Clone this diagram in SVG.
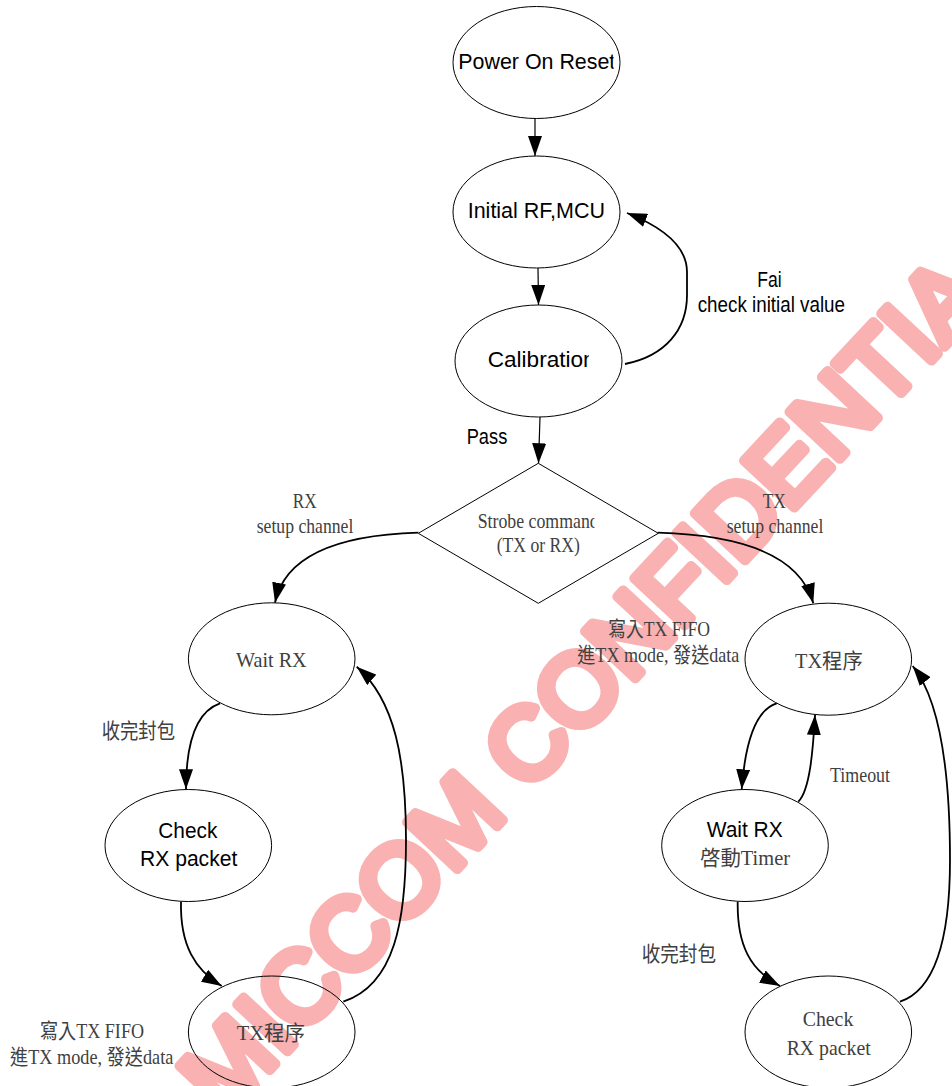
<svg xmlns="http://www.w3.org/2000/svg" width="952" height="1086" viewBox="0 0 952 1086">
<defs>
<style>
.bg{fill:#ffffff}
.node{fill:none;stroke:#000;stroke-width:1}
.sans{font-family:"Liberation Sans",Arial,"Noto Sans CJK TC",sans-serif;fill:#000;font-size:22px}
.serif{font-family:"Liberation Serif","Noto Sans CJK TC",serif;fill:#404040;font-size:21px}
.line{fill:none;stroke:#000;stroke-width:1.2}
.curve{fill:none;stroke:#000;stroke-width:1.8}
.wm{font-family:"Liberation Sans",Arial,sans-serif;font-size:100px;fill:#f9b1b1;stroke:#f9b1b1;stroke-width:10;stroke-linejoin:round;stroke-linecap:round}
</style>
<marker id="arr" markerUnits="userSpaceOnUse" viewBox="0 0 20 14" refX="20" refY="7" markerWidth="20" markerHeight="14" orient="auto">
<path d="M0,0 L20,7 L0,14 z" fill="#000"/>
</marker>
<clipPath id="cPOR"><rect x="440" y="30" width="173.5" height="60"/></clipPath>
<clipPath id="cCal"><rect x="470" y="330" width="119" height="60"/></clipPath>
<clipPath id="cStr"><rect x="460" y="500" width="134.5" height="40"/></clipPath>
<clipPath id="cFail"><rect x="740" y="260" width="42.3" height="35"/></clipPath>
</defs>
<rect class="bg" x="0" y="0" width="952" height="1086"/>

<g id="watermark">
<text class="wm" x="607" y="708.5" text-anchor="middle" transform="rotate(-47 607 708.5)">MICCOM CONFIDENTIA</text>
</g>

<g id="connectors">
<path class="line" d="M535,118 L535,156" marker-end="url(#arr)"/>
<path class="line" d="M538,268 L538.5,305" marker-end="url(#arr)"/>
<path class="line" d="M540,417 L538.5,463.3" marker-end="url(#arr)"/>
<path class="curve" d="M625,364 C665,356 687,330 687,295 L687,272 C687,250 670,230 627,213" marker-end="url(#arr)"/>
<path class="curve" d="M418.3,532.7 C340,535 285,555 275,602.7" marker-end="url(#arr)"/>
<path class="curve" d="M657.7,532.7 C740,535 800,555 813.3,603.3" marker-end="url(#arr)"/>
<path class="curve" d="M220,703.3 C195,712 186,745 186,789.3" marker-end="url(#arr)"/>
<path class="curve" d="M181,901.7 C180,945 195,970 221.7,986" marker-end="url(#arr)"/>
<path class="curve" d="M343.3,1001.7 C395,985 406,920 406,840 C406,760 395,700 356.7,666.7" marker-end="url(#arr)"/>
<path class="curve" d="M776.7,703.3 C755,710 745,745 741.7,789.3" marker-end="url(#arr)"/>
<path class="curve" d="M798.3,801.7 C810,790 813,750 815,715" marker-end="url(#arr)"/>
<path class="curve" d="M737.7,901.7 C737,945 750,970 780,986" marker-end="url(#arr)"/>
<path class="curve" d="M900,1001.7 C935,990 950,940 950,860 C950,770 940,700 912.7,666" marker-end="url(#arr)"/>
</g>

<g id="labels">
<text class="sans" x="466.7" y="444.3" font-size="20" textLength="40.6" lengthAdjust="spacingAndGlyphs">Pass</text>
<g clip-path="url(#cFail)"><text class="sans" x="757.3" y="287.3" font-size="21" textLength="28.3" lengthAdjust="spacingAndGlyphs">Fail</text></g>
<text class="sans" x="697.7" y="311.7" font-size="21" textLength="147.3" lengthAdjust="spacingAndGlyphs">check initial value</text>
<text class="serif" x="292.7" y="507.7" textLength="24" lengthAdjust="spacingAndGlyphs">RX</text>
<text class="serif" x="256.7" y="532.7" textLength="96.6" lengthAdjust="spacingAndGlyphs">setup channel</text>
<text class="serif" x="762.7" y="507.7" textLength="23.3" lengthAdjust="spacingAndGlyphs">TX</text>
<text class="serif" x="726.7" y="532.7" textLength="96.6" lengthAdjust="spacingAndGlyphs">setup channel</text>
<text class="serif" x="608.3" y="635.7" textLength="101.7" lengthAdjust="spacingAndGlyphs">寫入TX FIFO</text>
<text class="serif" x="577.3" y="661.7" textLength="162" lengthAdjust="spacingAndGlyphs">進TX mode, 發送data</text>
<text class="serif" x="101.7" y="737.6" textLength="73.3" lengthAdjust="spacingAndGlyphs">收完封包</text>
<text class="serif" x="830" y="781.7" textLength="60" lengthAdjust="spacingAndGlyphs">Timeout</text>
<text class="serif" x="641.7" y="960.5" textLength="74.3" lengthAdjust="spacingAndGlyphs">收完封包</text>
<text class="serif" x="40" y="1038.3" textLength="104" lengthAdjust="spacingAndGlyphs">寫入TX FIFO</text>
<text class="serif" x="10" y="1064" textLength="163.3" lengthAdjust="spacingAndGlyphs">進TX mode, 發送data</text>
</g>

<g id="power-on-reset">
<ellipse class="node" cx="536.5" cy="62.5" rx="83.5" ry="56"/>
<g clip-path="url(#cPOR)"><text class="sans" x="458.3" y="69.3" textLength="157" lengthAdjust="spacingAndGlyphs">Power On Reset</text></g>
</g>
<g id="initial-rf-mcu">
<ellipse class="node" cx="536.5" cy="212" rx="83.5" ry="56"/>
<text class="sans" x="467.7" y="218.3" textLength="137.3" lengthAdjust="spacingAndGlyphs">Initial RF,MCU</text>
</g>
<g id="calibration">
<ellipse class="node" cx="538.5" cy="361" rx="83.5" ry="56"/>
<g clip-path="url(#cCal)"><text class="sans" x="487.7" y="367.3" textLength="108" lengthAdjust="spacingAndGlyphs">Calibration</text></g>
</g>
<g id="strobe-command">
<polygon class="node" points="538.3,463.3 658.3,533.3 538.3,603.3 418.3,533.3"/>
<g clip-path="url(#cStr)"><text class="serif" x="477.7" y="528.3" textLength="121" lengthAdjust="spacingAndGlyphs">Strobe command</text></g>
<text class="serif" x="496.7" y="551.7" textLength="83.3" lengthAdjust="spacingAndGlyphs">(TX or RX)</text>
</g>
<g id="wait-rx-left">
<ellipse class="node" cx="271.7" cy="658.8" rx="83.3" ry="56"/>
<text class="serif" x="236" y="666.7" textLength="70.7" lengthAdjust="spacingAndGlyphs">Wait RX</text>
</g>
<g id="check-rx-left">
<ellipse class="node" cx="188.3" cy="845.5" rx="83.3" ry="56"/>
<text class="sans" x="158.3" y="838.3" textLength="59" lengthAdjust="spacingAndGlyphs">Check</text>
<text class="sans" x="140" y="866" textLength="97.3" lengthAdjust="spacingAndGlyphs">RX packet</text>
</g>
<g id="tx-left">
<ellipse class="node" cx="271.7" cy="1032" rx="83.3" ry="56"/>
<text class="serif" x="236.7" y="1040" textLength="68.3" lengthAdjust="spacingAndGlyphs">TX程序</text>
</g>
<g id="tx-right">
<ellipse class="node" cx="828.3" cy="659.2" rx="83.3" ry="56"/>
<text class="serif" x="795" y="668.3" textLength="67.7" lengthAdjust="spacingAndGlyphs">TX程序</text>
</g>
<g id="wait-rx-right">
<ellipse class="node" cx="745" cy="845.5" rx="83.3" ry="56"/>
<text class="sans" x="706.7" y="837.3" textLength="76" lengthAdjust="spacingAndGlyphs">Wait RX</text>
<text class="serif" x="700" y="865" textLength="90" lengthAdjust="spacingAndGlyphs">啓動Timer</text>
</g>
<g id="check-rx-right">
<ellipse class="node" cx="828.3" cy="1032" rx="83.3" ry="56"/>
<text class="serif" x="802.7" y="1026" textLength="50.6" lengthAdjust="spacingAndGlyphs">Check</text>
<text class="serif" x="786.7" y="1055" textLength="84" lengthAdjust="spacingAndGlyphs">RX packet</text>
</g>
</svg>
